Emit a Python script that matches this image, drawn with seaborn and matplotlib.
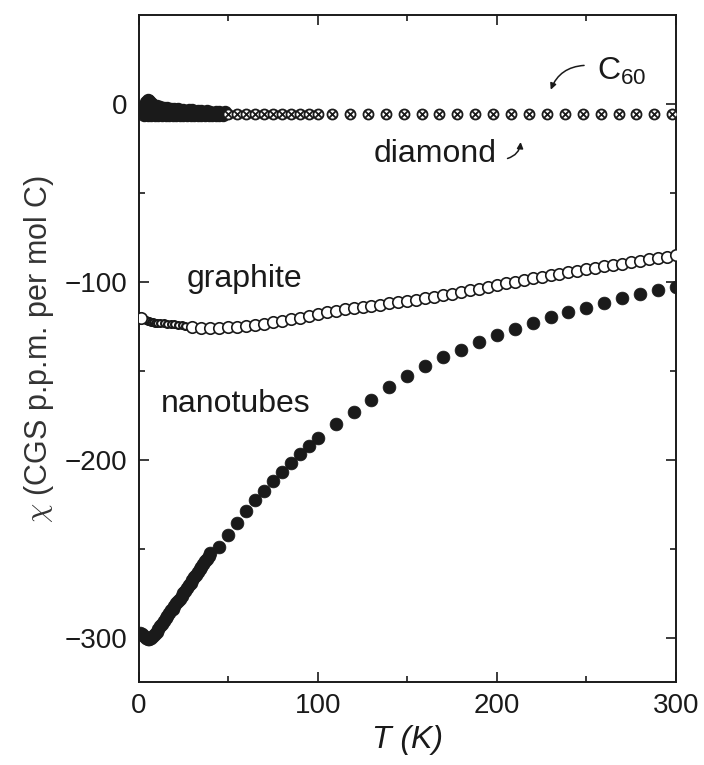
import numpy as np
import pandas as pd
import seaborn as sns
import matplotlib.pyplot as plt

# ---- data ----
# nanotubes (filled circles): dense low-T part, then sparse points
nano_T = [1, 2, 3, 4, 5, 6, 7, 8, 9, 10, 11, 12, 13, 14, 15, 16, 17, 18, 19, 20,
          21, 22, 23, 24, 25, 26, 27, 28, 29, 30, 31, 32, 33, 34, 35, 36, 37, 38, 39, 40,
          45, 50, 55, 60, 65, 70, 75, 80, 85, 90, 95, 100,
          110, 120, 130, 140, 150, 160, 170, 180, 190, 200, 210, 220, 230, 240,
          250, 260, 270, 280, 290, 300]
nano_chi = [-297, -298, -299, -300, -300.5, -300.5, -300, -299, -298, -296.5,
            -295, -293.5, -292, -290.5, -289, -287.5, -286, -284.5, -283.5, -282,
            -280.5, -279, -278, -276.5, -275, -273.5, -272, -270.5, -269, -267.5,
            -266, -264.5, -263, -261.5, -260, -258.5, -257, -255.5, -254, -252.5,
            -248.7, -242.1, -235.4, -228.5, -222.7, -217.2, -211.8, -206.5, -201.5,
            -196.4, -192, -187.6,
            -179.8, -172.8, -166, -159, -152.6, -147, -142.3, -138, -133.9, -129.8,
            -126.4, -123, -119.8, -117, -114.4, -111.8, -109.2, -106.9, -104.7, -103]

# graphite (open circles)
graph_dense_T = [3, 4, 5, 6, 7, 8, 9, 10, 12, 14, 16, 18, 20, 22, 24, 26]
graph_dense_chi = [-121, -121.5, -121.8, -122, -122.3, -122.5, -122.7, -122.8,
                   -123, -123.2, -123.4, -123.6, -123.8, -124, -124.3, -124.6]
graph_T = [1.5, 30, 35, 40, 45, 50, 55, 60, 65, 70, 75, 80, 85, 90, 95, 100, 105, 110,
           115, 120, 125, 130, 135, 140, 145, 150, 155, 160, 165, 170, 175, 180,
           185, 190, 195, 200, 205, 210, 215, 220, 225, 230, 235, 240, 245, 250,
           255, 260, 265, 270, 275, 280, 285, 290, 295, 300]
graph_chi = [-120, -125.5, -126, -126, -125.8, -125.5, -125, -124.5, -124, -123.3,
             -122.5, -121.7, -120.8, -119.9, -119, -118, -117, -116.2, -115.3, -114.5,
             -113.8, -113.2, -112.6, -112, -111.4, -110.8, -110, -109.2, -108.4,
             -107.5, -106.6, -105.6, -104.6, -103.6, -102.6, -101.6, -100.6, -99.7,
             -98.8, -97.9, -97, -96.1, -95.2, -94.4, -93.6, -92.8, -92, -91.2, -90.4,
             -89.6, -88.8, -88, -87.2, -86.4, -85.7, -85]

# C60 (dense, low T)
c60_T = [2, 3, 4, 5, 6, 7, 8, 9, 10, 12, 14, 16, 18, 20, 22, 25, 28, 30, 33, 35,
         38, 40, 43, 45, 48]
c60_chi = [-3, -1, 1, 2.5, 2, 0.5, -0.3, -0.8, -1.2, -1.6, -2, -2.2, -2.5, -2.7,
           -2.9, -3.1, -3.3, -3.5, -3.7, -3.8, -4, -4.1, -4.3, -4.4, -4.6]

# diamond (crossed circles)
dia_dense_T = [3, 5, 7, 9, 11, 13, 15, 17, 19, 21, 23, 25, 27, 29, 31, 33, 35,
               37, 39, 41, 43, 45, 47]
dia_dense_chi = [-6] * len(dia_dense_T)
dia_T = [50, 55, 60, 65, 70, 75, 80, 85, 90, 95, 100, 108, 118, 128, 138, 148,
         158, 168, 178, 188, 198, 208, 218, 228, 238, 248, 258, 268, 278, 288, 298]
dia_chi = [-5.5] * len(dia_T)

nano = pd.DataFrame({"T": nano_T, "chi": nano_chi})
graph = pd.DataFrame({"T": graph_T, "chi": graph_chi})
graph_d = pd.DataFrame({"T": graph_dense_T, "chi": graph_dense_chi})
c60 = pd.DataFrame({"T": c60_T, "chi": c60_chi})
dia_d = pd.DataFrame({"T": dia_dense_T, "chi": dia_dense_chi})
dia = pd.DataFrame({"T": dia_T, "chi": dia_chi})

# ---- style ----
sns.set_style("ticks")
plt.rcParams["font.family"] = ["Liberation Sans", "DejaVu Sans"]
plt.rcParams["mathtext.fontset"] = "custom"
plt.rcParams["mathtext.rm"] = "Liberation Sans"
plt.rcParams["mathtext.it"] = "Liberation Sans:italic"

fig = plt.figure(figsize=(7.04, 7.65), dpi=100)
ax = fig.add_axes([0.197, 0.108, 0.763, 0.872])

ink = "#1a1a1a"

# diamond / C60 row
sns.scatterplot(data=dia_d, x="T", y="chi", ax=ax, s=75, color=ink,
                edgecolor=ink, linewidth=1, zorder=3)
sns.scatterplot(data=c60, x="T", y="chi", ax=ax, s=75, color=ink,
                edgecolor=ink, linewidth=1, zorder=3)
sns.scatterplot(data=dia, x="T", y="chi", ax=ax, s=52, color="white",
                edgecolor=ink, linewidth=1.3, zorder=3)
sns.scatterplot(data=dia, x="T", y="chi", ax=ax, s=28, marker="x", color=ink,
                linewidth=1.3, zorder=4)

# graphite
sns.scatterplot(data=graph_d, x="T", y="chi", ax=ax, s=24, color="white",
                edgecolor=ink, linewidth=1.6, zorder=3)
sns.scatterplot(data=graph, x="T", y="chi", ax=ax, s=68, color="white",
                edgecolor=ink, linewidth=1.2, zorder=3)

# nanotubes
sns.scatterplot(data=nano, x="T", y="chi", ax=ax, s=85, color=ink,
                edgecolor=ink, linewidth=0.5, zorder=3)

ax.set_xlim(0, 300)
ax.set_ylim(-325, 50)
ax.set_xticks([0, 100, 200, 300])
ax.set_xticks([50, 150, 250], minor=True)
ax.set_yticks([0, -100, -200, -300])
ax.set_yticks([-50, -150, -250], minor=True)
ax.tick_params(which="both", direction="in", top=True, right=True,
               labelsize=20, color=ink, labelcolor=ink, width=1.2, pad=8)
ax.tick_params(which="major", length=7)
ax.tick_params(which="minor", length=4)
ax.set_yticklabels(["0", "\u2212100", "\u2212200", "\u2212300"])
for sp in ax.spines.values():
    sp.set_linewidth(1.4)
    sp.set_color(ink)

ax.set_xlabel("T (K)", fontsize=23, fontstyle="italic", color=ink, labelpad=4)
ax.set_ylabel(r"$\chi$ (CGS p.p.m. per mol C)", fontsize=22, color="#333333",
              labelpad=6, math_fontfamily="cm")

# labels and arrows
ax.text(165.4, -28, "diamond", fontsize=23, ha="center", va="center", color=ink)
ax.text(59.2, -98.3, "graphite", fontsize=23, ha="center", va="center", color=ink)
ax.text(54.2, -168.5, "nanotubes", fontsize=23, ha="center", va="center", color=ink)
ax.text(256, 18.5, r"C$_{\mathregular{60}}$", fontsize=23, ha="left", va="center",
        color=ink)
ax.annotate("", xy=(213.4, -19.7), xytext=(204.5, -30.9),
            arrowprops=dict(arrowstyle="-|>", color=ink, lw=1.1,
                            mutation_scale=9,
                            connectionstyle="arc3,rad=0.4"))
ax.annotate("", xy=(229.6, 6.7), xytext=(250.3, 21.9),
            arrowprops=dict(arrowstyle="-|>", color=ink, lw=1.1,
                            mutation_scale=9,
                            connectionstyle="arc3,rad=0.35"))

fig.savefig("out.png", dpi=100)
